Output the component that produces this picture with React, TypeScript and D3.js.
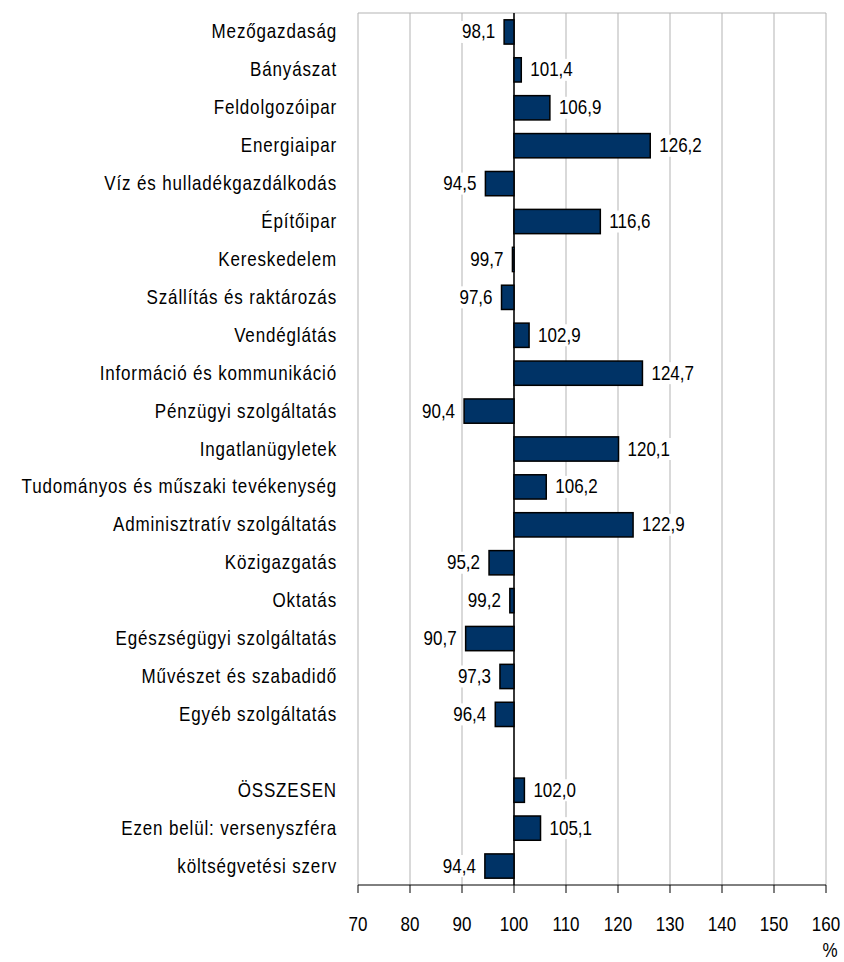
import React from "react";
import * as d3 from "d3";

const categories: string[] = [
  "Mezőgazdaság",
  "Bányászat",
  "Feldolgozóipar",
  "Energiaipar",
  "Víz és hulladékgazdálkodás",
  "Építőipar",
  "Kereskedelem",
  "Szállítás és raktározás",
  "Vendéglátás",
  "Információ és kommunikáció",
  "Pénzügyi szolgáltatás",
  "Ingatlanügyletek",
  "Tudományos és műszaki tevékenység",
  "Adminisztratív szolgáltatás",
  "Közigazgatás",
  "Oktatás",
  "Egészségügyi szolgáltatás",
  "Művészet és szabadidő",
  "Egyéb szolgáltatás",
  "",
  "ÖSSZESEN",
  "Ezen belül: versenyszféra",
  "költségvetési szerv",
];

const values: (number | null)[] = [
  98.1, 101.4, 106.9, 126.2, 94.5, 116.6, 99.7, 97.6, 102.9, 124.7, 90.4, 120.1,
  106.2, 122.9, 95.2, 99.2, 90.7, 97.3, 96.4, null, 102.0, 105.1, 94.4,
];

const xTicks: number[] = [70, 80, 90, 100, 110, 120, 130, 140, 150, 160];
const baseValue = 100;
const unitLabel = "%";

const W = 844;
const H = 962;
const left = 358;
const right = 826;
const top = 13;
const bottom = 885;
const FONT = "'Liberation Sans', Arial, sans-serif";
const FS = 20;
const SX = 0.85;

function T(props: {
  x: number;
  y: number;
  anchor: "start" | "middle" | "end";
  ls?: number;
  children: React.ReactNode;
}) {
  return (
    <text
      transform={`translate(${props.x},${props.y}) scale(${SX},1)`}
      textAnchor={props.anchor}
      fontSize={FS}
      letterSpacing={props.ls ?? 0}
      fill="#000"
    >
      {props.children}
    </text>
  );
}

export default function App() {
  const x = d3.scaleLinear().domain([70, 160]).range([left, right]);
  const keys = categories.map((_, i) => String(i));
  const y = d3.scaleBand<string>().domain(keys).range([top, bottom]).paddingInner(0.36).paddingOuter(0.18);
  const fmt = (v: number) => v.toFixed(1).replace(".", ",");
  const labelWidth = (s: string) => s.replace(",", "").length * 9.45 + 4.7;

  return (
    <svg
      width={W}
      height={H}
      style={{ position: "absolute", left: 0, top: 0, background: "#fff" }}
      fontFamily={FONT}
    >
      <rect x={0} y={0} width={W} height={H} fill="#fff" />
      {/* grid */}
      {xTicks.map((t) => (
        <line
          key={"g" + t}
          x1={x(t)}
          x2={x(t)}
          y1={top}
          y2={bottom}
          stroke="#b3b3b3"
          strokeWidth={1}
        />
      ))}
      <line x1={left} x2={right} y1={top} y2={top} stroke="#b3b3b3" strokeWidth={1} />
      {/* value label backgrounds */}
      {values.map((v, i) => {
        if (v == null) return null;
        const s = fmt(v);
        const w = labelWidth(s);
        const cy = (y(String(i)) as number) + y.bandwidth() / 2;
        const neg = v < baseValue;
        const xs = neg ? x(v) - 9 - w : x(v) + 9;
        return <rect key={"bg" + i} x={xs - 1} y={cy - 11} width={w + 2} height={22} fill="#fff" />;
      })}
      {/* base line */}
      <line x1={x(baseValue)} x2={x(baseValue)} y1={top} y2={bottom} stroke="#000" strokeWidth={1.5} />
      {/* bars */}
      {values.map((v, i) => {
        if (v == null) return null;
        const y0 = y(String(i)) as number;
        const x0 = Math.min(x(v), x(baseValue));
        const x1 = Math.max(x(v), x(baseValue));
        return (
          <rect
            key={"b" + i}
            x={x0}
            y={y0}
            width={Math.max(x1 - x0, 0.5)}
            height={y.bandwidth()}
            fill="#003366"
            stroke="#000"
            strokeWidth={1.5}
          />
        );
      })}
      {/* value labels */}
      {values.map((v, i) => {
        if (v == null) return null;
        const cy = (y(String(i)) as number) + y.bandwidth() / 2;
        const neg = v < baseValue;
        return (
          <T key={"v" + i} x={neg ? x(v) - 9 : x(v) + 9} y={cy + 6.5} anchor={neg ? "end" : "start"}>
            {fmt(v)}
          </T>
        );
      })}
      {/* category labels */}
      {categories.map((c, i) => {
        const cy = (y(String(i)) as number) + y.bandwidth() / 2;
        return (
          <T key={"c" + i} x={337} y={cy + 6.5} anchor="end" ls={1}>
            {c}
          </T>
        );
      })}
      {/* x axis */}
      <line x1={left} x2={right} y1={bottom} y2={bottom} stroke="#000" strokeWidth={1} />
      {xTicks.map((t) => (
        <g key={"t" + t}>
          <line x1={x(t)} x2={x(t)} y1={bottom} y2={bottom + 8} stroke="#000" strokeWidth={1} />
          <T x={x(t)} y={931} anchor="middle">
            {t}
          </T>
        </g>
      ))}
      <T x={830} y={957} anchor="middle">
        {unitLabel}
      </T>
    </svg>
  );
}
